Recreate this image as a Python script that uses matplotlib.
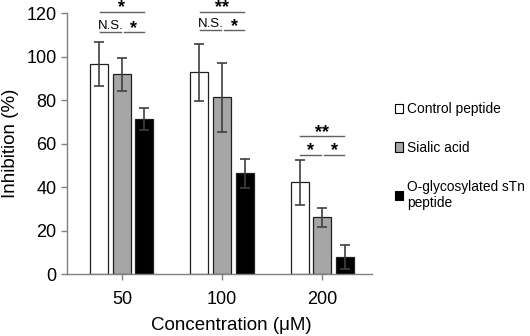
import numpy as np
import matplotlib
matplotlib.use('Agg')
import matplotlib.pyplot as plt
from matplotlib.patches import Rectangle

plt.rcParams['font.family'] = ['Liberation Sans', 'DejaVu Sans']

# data
concentrations = ['50', '100', '200']
series_names = ['Control peptide', 'Sialic acid', 'O-glycosylated sTn\npeptide']
control = [96.5, 92.7, 42.1]
control_err = [10.0, 13.0, 10.3]
sialic = [91.8, 81.2, 26.1]
sialic_err = [7.5, 16.0, 4.3]
sTn = [71.4, 46.4, 8.0]
sTn_err = [5.0, 6.7, 5.5]

# significance brackets: (group, which pair, label)
sig_marks = [
    (0, 'all', '*'), (0, 'left', 'N.S.'), (0, 'right', '*'),
    (1, 'all', '**'), (1, 'left', 'N.S.'), (1, 'right', '*'),
    (2, 'all', '**'), (2, 'left', '*'), (2, 'right', '*'),
]
sig_heights = {0: (120.6, 111.1), 1: (120.6, 112.0), 2: (63.4, 54.9)}

fig = plt.figure(figsize=(5.30, 3.36), dpi=100)
ax = fig.add_axes([0.1264, 0.1845, 0.5755, 0.7768])

x = np.arange(len(concentrations))
w = 0.18
step = 0.225
colors = ['white', '#a6a6a6', 'black']
vals = [control, sialic, sTn]
errs = [control_err, sialic_err, sTn_err]
for i in range(3):
    ax.bar(x + (i - 1) * step, vals[i], w, color=colors[i], edgecolor='#202020',
           linewidth=0.9, label=series_names[i], zorder=2)
    ax.errorbar(x + (i - 1) * step, vals[i], yerr=errs[i], fmt='none',
                ecolor='#404040', elinewidth=1.2, capsize=3.5, capthick=1.2, zorder=3)

# brackets
for g, pair, lab in sig_marks:
    if pair == 'all':
        y = sig_heights[g][0]
        x0, x1 = g - 0.22, g + 0.22
    elif pair == 'left':
        y = sig_heights[g][1]
        x0, x1 = g - 0.22, g - 0.01
    else:
        y = sig_heights[g][1]
        x0, x1 = g + 0.02, g + 0.22
    ax.plot([x0, x1], [y, y], color='#606060', lw=1.0, clip_on=False)
    if lab == 'N.S.':
        ax.text((x0 + x1) / 2, y + 1.6, lab, ha='center', va='baseline', fontsize=9.5)
    else:
        ax.text((x0 + x1) / 2, y - 0.4, lab, ha='center', va='baseline',
                fontsize=13, fontweight='bold')

ax.set_xlim(-0.55, 2.5)
ax.set_ylim(0, 120)
ax.set_yticks(range(0, 121, 20))
ax.set_xticks(x)
ax.set_xticklabels(concentrations)
ax.tick_params(labelsize=13, color='#808080', length=4, width=1)
ax.tick_params(axis='x', pad=8)
for s in ['top', 'right']:
    ax.spines[s].set_visible(False)
for s in ['left', 'bottom']:
    ax.spines[s].set_color('#808080')
    ax.spines[s].set_linewidth(1.0)
ax.set_ylabel('Inhibition (%)', fontsize=13.5, labelpad=5)
ax.set_xlabel('Concentration (\u03bcM)', fontsize=13.5, labelpad=5)
ax.xaxis.set_label_coords(0.54, -0.165)

handles = [Rectangle((0, 0), 1, 1, facecolor=c, edgecolor='black', linewidth=0.8) for c in colors]
fig.legend(handles, series_names, loc='upper left', bbox_to_anchor=(0.735, 0.712),
           frameon=False, fontsize=9.9, handlelength=0.55, handleheight=0.7,
           handletextpad=0.35, labelspacing=1.8, borderaxespad=0)

fig.savefig('out.png', dpi=100)
